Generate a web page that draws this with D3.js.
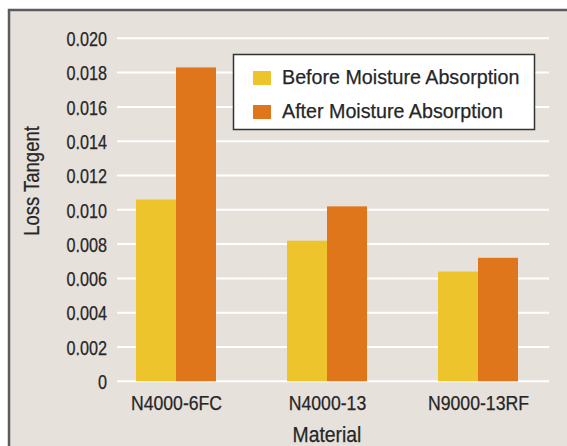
<!DOCTYPE html>
<html>
<head>
<meta charset="utf-8">
<script src="https://cdn.jsdelivr.net/npm/d3@7"></script>
<style>
  html, body { margin: 0; padding: 0; background: #ffffff; }
  svg { display: block; }
  text { font-family: "Liberation Sans", Arial, sans-serif; fill: #262626; stroke: #262626; stroke-width: 0.25px; }
</style>
</head>
<body>
<svg id="chart" width="567" height="446"></svg>
<script>
const categories = ["N4000-6FC", "N4000-13", "N9000-13RF"];
const seriesNames = ["Before Moisture Absorption", "After Moisture Absorption"];
const beforeValues = [0.0106, 0.0082, 0.0064];
const afterValues = [0.0183, 0.0102, 0.0072];
const yTicks = [0, 0.002, 0.004, 0.006, 0.008, 0.010, 0.012, 0.014, 0.016, 0.018, 0.020];
const seriesColors = ["#EEC42D", "#DF761B"];

const svg = d3.select("#chart");
const W = 567, H = 446;

// condense a text selection horizontally (condensed typeface look)
function condense(sel, factor) {
  sel.each(function () {
    const w = this.getComputedTextLength();
    d3.select(this).attr("textLength", w * factor).attr("lengthAdjust", "spacingAndGlyphs");
  });
}

// frame
svg.append("rect").attr("x", 9).attr("y", 10).attr("width", W + 10).attr("height", H + 10)
  .attr("fill", "#E6E1DB").attr("stroke", "#5c5c5c").attr("stroke-width", 2.5);

const y = d3.scaleLinear().domain([0, 0.020]).range([381.3, 38.3]);
const x = d3.scalePoint().domain(categories).range([176, 478]);
const barW = 40;
const gridX0 = 117, gridX1 = 549;

// grid lines
svg.append("g").selectAll("line").data(yTicks).join("line")
  .attr("x1", gridX0).attr("x2", gridX1)
  .attr("y1", d => y(d)).attr("y2", d => y(d))
  .attr("stroke", "#ffffff").attr("stroke-width", 2);

// y axis labels
const yAxis = d3.axisLeft(y).tickValues(yTicks)
  .tickFormat(d => d === 0 ? "0" : d3.format(".3f")(d)).tickSize(0).tickPadding(0);
const gy = svg.append("g").attr("transform", "translate(107,0)").call(yAxis);
gy.select(".domain").remove();
gy.selectAll("text").attr("font-size", 20).attr("dy", "0.36em")
  .style("font-family", "'Liberation Sans', Arial, sans-serif")
  .call(condense, 0.81);

// bars
const series = [beforeValues, afterValues];
series.forEach((vals, si) => {
  svg.append("g").selectAll("rect").data(categories).join("rect")
    .attr("x", d => x(d) - barW + si * barW)
    .attr("y", (d, i) => y(vals[i]))
    .attr("width", barW)
    .attr("height", (d, i) => y(0) - y(vals[i]))
    .attr("fill", seriesColors[si]);
});

// x axis labels
const xAxis = d3.axisBottom(x).tickSize(0).tickPadding(0);
const gx = svg.append("g").attr("transform", "translate(0,395)").call(xAxis);
gx.select(".domain").remove();
gx.selectAll("text").attr("font-size", 20.5).attr("dy", "0.71em")
  .style("font-family", "'Liberation Sans', Arial, sans-serif")
  .call(condense, 0.86);

// axis titles
svg.append("text").attr("x", 327).attr("y", 442).attr("text-anchor", "middle")
  .attr("font-size", 22).text("Material").call(condense, 0.88);
svg.append("text").attr("transform", "translate(38.5,181) rotate(-90)").attr("text-anchor", "middle")
  .attr("font-size", 21.5).text("Loss Tangent").call(condense, 0.86);

// legend
const lg = svg.append("g");
lg.append("rect").attr("x", 233.5).attr("y", 54.5).attr("width", 301).attr("height", 75)
  .attr("fill", "#ffffff").attr("stroke", "#333333").attr("stroke-width", 1.5);
seriesNames.forEach((name, i) => {
  lg.append("rect").attr("x", 253).attr("y", 71 + i * 34).attr("width", 18).attr("height", 14)
    .attr("fill", seriesColors[i]);
  lg.append("text").attr("x", 282).attr("y", 84 + i * 34).attr("font-size", 20.5).text(name)
    .call(condense, 0.96);
});
</script>
</body>
</html>
